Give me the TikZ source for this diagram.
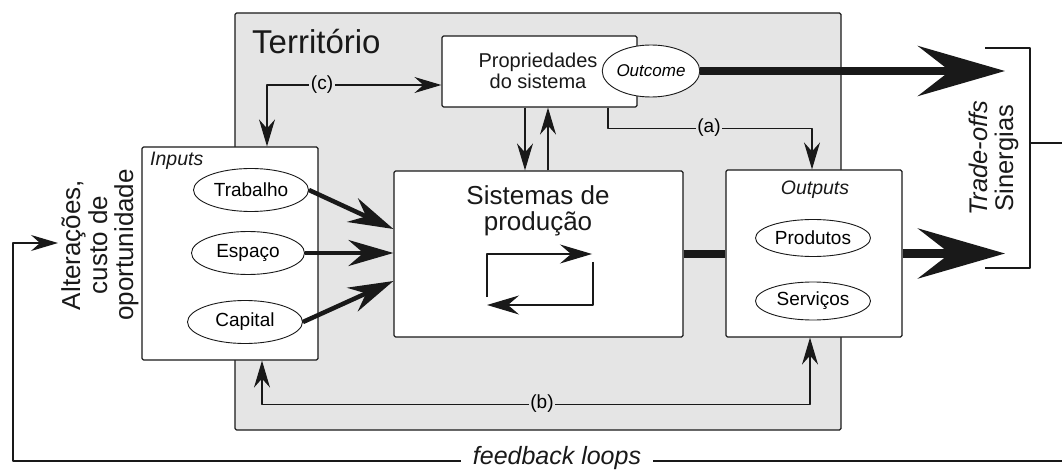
\documentclass[tikz,border=0pt]{standalone}
\usepackage{fontspec}
\setmainfont{Liberation Sans}
\usetikzlibrary{arrows.meta,shapes.geometric,calc}
\definecolor{terr}{RGB}{229,229,229}
\definecolor{ink}{RGB}{25,25,25}
\newcommand{\fsz}[1]{\fontsize{#1}{#1}\selectfont}
\begin{document}
\begin{tikzpicture}[x=1pt,y=-1pt,line join=round,
  box/.style={draw=ink,fill=white,line width=1.2pt,rounded corners=1.5pt,inner sep=0pt},
  oval/.style={draw=ink,fill=white,ellipse,line width=0.9pt,inner sep=0pt,font=\fsz{19}},
  thinln/.style={draw=ink,line width=1.2pt},
  tipS/.style={-{Stealth[length=27pt,width=16pt,inset=9pt]}},
  bothS/.style={{Stealth[length=27pt,width=16pt,inset=9pt]}-{Stealth[length=27pt,width=16pt,inset=9pt]}},
  loopS/.style={-{Stealth[length=32pt,width=19pt,inset=11pt]}},
  midarrow/.style={draw=ink,line width=4.5pt,-{Stealth[length=45pt,width=26pt,inset=15pt]}},
  bigarrow/.style={draw=ink,line width=8.5pt,-{Stealth[length=87pt,width=50pt,inset=32pt]}},
  lab/.style={fill=terr,inner sep=1.5pt,font=\fsz{19}},
  txt/.style={inner sep=0pt,text=ink}
]
\useasboundingbox (0,0) rectangle (1062,470);
% territory
\node[draw=ink,fill=terr,line width=1.2pt,rounded corners=1.5pt,inner sep=0pt,
      minimum width=606pt,minimum height=417pt] (terr) at (538,221.5) {};
\node[txt,anchor=base west,font=\fsz{33}] (terrtxt) at (252,54) {Território};
% boxes
\node[box,minimum width=195pt,minimum height=71pt] (prop) at (539.5,71.5) {};
\node[txt,anchor=base,font=\fsz{20}] (prop1) at (538,68) {Propriedades};
\node[txt,anchor=base,font=\fsz{20}] (prop2) at (538,89) {do sistema};
\node[oval,minimum width=88pt,minimum height=52pt,font=\fsz{17}\itshape] (outc) at (651,71) {Outcome};
\node[box,minimum width=289pt,minimum height=166pt] (sist) at (538.5,254) {};
\node[txt,anchor=base,font=\fsz{26}] (sist1) at (538,205) {Sistemas de};
\node[txt,anchor=base,font=\fsz{26}] (sist2) at (538,231) {produção};
\node[box,minimum width=176pt,minimum height=213pt] (inp) at (230,253.5) {};
\node[txt,anchor=base west,font=\fsz{19.5}\itshape] (inptxt) at (150,166) {Inputs};
\node[oval,minimum width=115pt,minimum height=43pt] (trab) at (251,190) {Trabalho};
\node[oval,minimum width=113pt,minimum height=43pt] (esp) at (248,253) {Espaço};
\node[oval,minimum width=115pt,minimum height=43pt] (cap) at (245,322) {Capital};
\node[box,minimum width=176pt,minimum height=167pt] (out) at (814,253.5) {};
\node[txt,anchor=base,font=\fsz{19.5}\itshape] (outtxt) at (815,195) {Outputs};
\node[oval,minimum width=115pt,minimum height=37pt] (prod) at (813,238) {Produtos};
\node[oval,minimum width=115pt,minimum height=38pt] (serv) at (813,301) {Serviços};
% input arrows
\draw[midarrow] (trab.east) -- ([yshift=25pt]sist.west);
\draw[midarrow] (esp.east) -- (esp.east -| sist.west);
\draw[midarrow] (cap.east) -- ([yshift=-27pt]sist.west);
% thick flows
\draw[draw=ink,line width=8.5pt] (sist.east) -- (sist.east -| out.west);
\coordinate (tip1) at (1005,71);
\coordinate (tip2) at (1005,253.5);
\draw[bigarrow] (outc.east) -- (tip1);
\draw[bigarrow] (out.east) -- (tip2);
% prop <-> sist
\draw[thinln,tipS] ([xshift=-14.5pt]prop.south) -- ([xshift=-14.5pt]prop.south |- sist.north);
\draw[thinln,tipS] ([xshift=9.5pt]sist.north) -- ([xshift=9.5pt]sist.north |- prop.south);
% inner loop
\coordinate (l1) at (487,297);
\coordinate (l2) at (592,254);
\coordinate (l3) at (593,262);
\coordinate (l4) at (487,305);
\draw[thinln,loopS] (l1) |- (l2);
\draw[thinln,loopS] (l3) |- (l4);
% (a)
\draw[thinln,tipS] ([xshift=68.5pt]prop.south) -- ++(0,21) -| ([xshift=-2pt]out.north);
\node[lab] (la) at (709,128) {(a)};
% (c)
\draw[thinln,bothS] ([xshift=37pt]inp.north) |- ([yshift=-13.5pt]prop.west);
\node[lab] (lc) at (322,85) {(c)};
% (b)
\draw[thinln,bothS] ([xshift=32pt]inp.south) -- ++(0,44) -| ([xshift=-4pt]out.south);
\node[lab] (lb) at (542,404) {(b)};
% trade-offs bracket
\coordinate (b1) at (985,48);
\coordinate (b2) at (1030,48);
\coordinate (b3) at (1030,268);
\coordinate (b4) at (985,268);
\coordinate (b5) at (1030,143);
\coordinate (b6) at (1062,143);
\draw[thinln] (b1) -- (b2) -- (b3) -- (b4);
\draw[thinln] (b5) -- (b6);
\node[txt,rotate=90,anchor=base,font=\fsz{25.5}\itshape] (trade) at (987,158) {Trade-offs};
\node[txt,rotate=90,anchor=base,font=\fsz{25.5}] (siner) at (1013,158) {Sinergias};
% alterações
\node[txt,rotate=90,anchor=base,font=\fsz{26}] (alt1) at (80,245) {Alterações,};
\node[txt,rotate=90,anchor=base,font=\fsz{26}] (alt2) at (107,245) {custo de};
\node[txt,rotate=90,anchor=base,font=\fsz{26}] (alt3) at (133,245) {oportunidade};
% feedback loops
\node[txt,anchor=base,inner xsep=12pt,font=\fsz{25}\itshape] (fb) at (557,464.5) {feedback loops};
\coordinate (fbl) at (13,461);
\coordinate (fbr) at (1062,461);
\coordinate (altarr) at (58,243);
\draw[thinln,tipS] (fb.west |- fbl) -- (fbl) |- (altarr);
\draw[thinln] (fb.east |- fbr) -- (fbr);
\end{tikzpicture}
\end{document}
